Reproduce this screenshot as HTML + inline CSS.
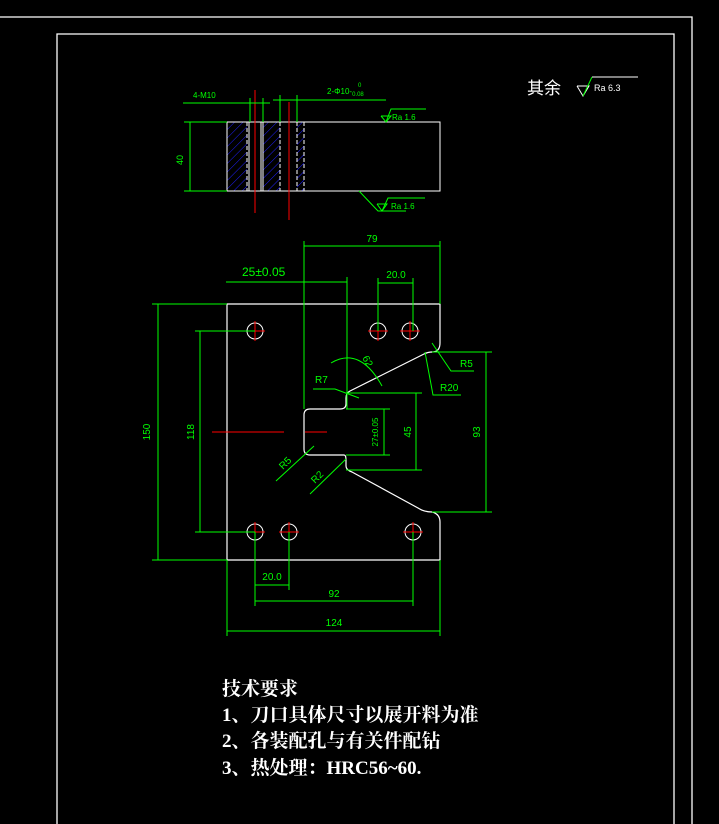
<!DOCTYPE html>
<html><head><meta charset="utf-8"><style>
html,body{margin:0;padding:0;background:#000;width:719px;height:824px;overflow:hidden}
svg{display:block}
text{font-family:"Liberation Sans",sans-serif}
.req{font-family:"Liberation Serif","Noto Serif CJK SC",serif;font-weight:bold}
.cj{font-family:"Liberation Sans","Noto Sans CJK SC",sans-serif}
</style></head><body>
<svg width="719" height="824" viewBox="0 0 719 824" xmlns="http://www.w3.org/2000/svg">
<defs>
<pattern id="h" width="6" height="6" patternUnits="userSpaceOnUse" patternTransform="rotate(45)">
<line x1="0" y1="0" x2="0" y2="6" stroke="#2020ff" stroke-width="1"/></pattern>
</defs>
<g fill="none" stroke="#fff" stroke-width="1.3">
<polyline points="0,17 692,17 692,824"/>
<polyline points="57,824 57,34 674,34 674,824"/>
</g>
<text x="527" y="94" fill="#fff" font-size="17" class="cj">其余</text>
<polyline points="577,86 589,86 583,96 577,86" fill="none" stroke="#fff"/>
<polyline points="583,96 592,77" fill="none" stroke="#0f0"/>
<line x1="592" y1="77" x2="638" y2="77" stroke="#fff"/>
<text x="594" y="91" fill="#fff" font-size="9">Ra 6.3</text>

<rect x="227" y="122" width="20" height="69" fill="url(#h)"/>
<rect x="263" y="122" width="17" height="69" fill="url(#h)"/>
<rect x="297" y="122" width="7" height="69" fill="url(#h)"/>
<g stroke="#fff" fill="none" stroke-width="1">
<rect x="227" y="122" width="213" height="69"/>
<line x1="247" y1="122" x2="247" y2="191" stroke-dasharray="4 2"/>
<line x1="249" y1="122" x2="249" y2="191"/>
<line x1="261" y1="122" x2="261" y2="191"/>
<line x1="263" y1="122" x2="263" y2="191"/>
<line x1="280" y1="122" x2="280" y2="191" stroke-dasharray="4 2"/>
<line x1="297" y1="122" x2="297" y2="191" stroke-dasharray="4 2"/>
<line x1="304" y1="122" x2="304" y2="191" stroke-dasharray="4 2"/>
</g>
<g stroke="#f00" stroke-width="1">
<line x1="255" y1="90" x2="255" y2="213"/>
<line x1="289" y1="102" x2="289" y2="220"/>
</g>
<g stroke="#0f0" stroke-width="1" fill="none">
<line x1="183" y1="103" x2="270" y2="103"/>
<line x1="273" y1="100" x2="386" y2="100"/>
<line x1="250" y1="98" x2="250" y2="122"/>
<line x1="263" y1="98" x2="263" y2="122"/>
<line x1="280" y1="95" x2="280" y2="122"/>
<line x1="297" y1="95" x2="297" y2="122"/>
<line x1="184" y1="122" x2="227" y2="122"/>
<line x1="184" y1="191" x2="227" y2="191"/>
<line x1="190" y1="122" x2="190" y2="191"/>
<polyline points="381,116 391,116 386,122 381,116"/><polyline points="386,122 391,109 426,109"/>
<polyline points="359,191 378,211 406,211"/>
<polyline points="377,204 387,204 382,211 377,204"/><polyline points="382,211 388,198 425,198"/>
</g>
<text x="193" y="98" fill="#0f0" font-size="8">4-M10</text>
<text x="327" y="94" fill="#0f0" font-size="8">2-Φ10-<tspan font-size="6" dy="2">0.08</tspan></text>
<text x="358" y="87" fill="#0f0" font-size="6">0</text>
<text x="392" y="120" fill="#0f0" font-size="8">Ra 1.6</text>
<text x="391" y="209" fill="#0f0" font-size="8">Ra 1.6</text>
<text x="183" y="160" fill="#0f0" font-size="9" transform="rotate(-90 183 160)" text-anchor="middle">40</text>

<path d="M227,304 H440 V343 Q440,352 432,352 Q428,352 424,354 L350,391 Q346,393 346,398 V404 Q346,409 340,409 H310 Q304,409 304,415 V449 Q304,455 310,455 H344 Q346,455 346,460 V466 Q346,470 352,472 L418,508 Q424,512 432,512 Q440,514 440,522 V560 H227 Z" fill="none" stroke="#fff" stroke-width="1.2"/>
<g stroke="#fff" fill="none" stroke-width="1">
<circle cx="255" cy="331" r="8"/><circle cx="378" cy="331" r="8"/><circle cx="410" cy="331" r="8"/>
<circle cx="255" cy="532" r="8"/><circle cx="289" cy="532" r="8"/><circle cx="413" cy="532" r="8"/>
</g>
<g stroke="#f00" stroke-width="1">
<path d="M245,331h20M255,321v20M368,331h20M378,321v20M400,331h20M410,321v20M245,532h20M255,522v20M279,532h20M289,522v20M403,532h20M413,522v20"/>
<line x1="212" y1="432" x2="284" y2="432"/><line x1="305" y1="432" x2="327" y2="432"/>
</g>
<g stroke="#0f0" stroke-width="1" fill="none">
<line x1="304" y1="241" x2="304" y2="409"/><line x1="440" y1="241" x2="440" y2="304"/>
<line x1="304" y1="246" x2="440" y2="246"/>
<line x1="226" y1="282" x2="347" y2="282"/><line x1="347" y1="277" x2="347" y2="409"/>
<line x1="378" y1="278" x2="378" y2="331"/><line x1="413" y1="278" x2="413" y2="331"/>
<line x1="378" y1="283" x2="413" y2="283"/>
<line x1="152" y1="304" x2="227" y2="304"/><line x1="152" y1="560" x2="227" y2="560"/>
<line x1="158" y1="304" x2="158" y2="560"/>
<line x1="195" y1="331" x2="255" y2="331"/><line x1="195" y1="532" x2="255" y2="532"/>
<line x1="200" y1="331" x2="200" y2="532"/>
<line x1="227" y1="560" x2="227" y2="636"/><line x1="440" y1="560" x2="440" y2="636"/>
<line x1="227" y1="631" x2="440" y2="631"/>
<line x1="255" y1="532" x2="255" y2="606"/><line x1="289" y1="532" x2="289" y2="590"/>
<line x1="413" y1="532" x2="413" y2="606"/>
<line x1="255" y1="585" x2="289" y2="585"/><line x1="255" y1="601" x2="413" y2="601"/>
<line x1="432" y1="352" x2="492" y2="352"/><line x1="432" y1="512" x2="492" y2="512"/>
<line x1="486" y1="352" x2="486" y2="512"/>
<line x1="346" y1="393" x2="422" y2="393"/><line x1="346" y1="470" x2="422" y2="470"/>
<line x1="416" y1="393" x2="416" y2="470"/>
<line x1="346" y1="409" x2="390" y2="409"/><line x1="346" y1="455" x2="390" y2="455"/>
<line x1="384" y1="409" x2="384" y2="455"/>
<path d="M331,363 Q360,346 382,386"/>
<polyline points="313,389 335,389 359,398"/>
<polyline points="432,343 451,371 474,371"/>
<polyline points="425,352 433,395 461,395"/>
<line x1="276" y1="481" x2="314" y2="446"/>
<line x1="310" y1="494" x2="346" y2="459"/>
</g>
<g fill="#0f0" font-size="10">
<text x="372" y="242" text-anchor="middle">79</text>
<text x="242" y="276" font-size="12">25±0.05</text>
<text x="396" y="278" text-anchor="middle">20.0</text>
<text x="150" y="432" transform="rotate(-90 150 432)" text-anchor="middle">150</text>
<text x="194" y="432" transform="rotate(-90 194 432)" text-anchor="middle">118</text>
<text x="272" y="580" text-anchor="middle">20.0</text>
<text x="334" y="597" text-anchor="middle">92</text>
<text x="334" y="626" text-anchor="middle">124</text>
<text x="315" y="383">R7</text>
<text x="460" y="367">R5</text>
<text x="440" y="391">R20</text>
<text x="480" y="432" transform="rotate(-90 480 432)" text-anchor="middle">93</text>
<text x="411" y="432" transform="rotate(-90 411 432)" text-anchor="middle">45</text>
<text x="378" y="432" transform="rotate(-90 378 432)" text-anchor="middle" font-size="8">27±0.05</text>
<text x="283" y="470" transform="rotate(-45 283 470)">R5</text>
<text x="315" y="484" transform="rotate(-45 315 484)">R2</text>
<text x="362" y="358" transform="rotate(60 362 358)">62</text>
</g>

<g fill="#fff" font-size="19" class="req">
<text x="222" y="695" class="req">技术要求</text>
<text x="222" y="721" class="req">1、刀口具体尺寸以展开料为准</text>
<text x="222" y="747" class="req">2、各装配孔与有关件配钻</text>
<text x="222" y="774" class="req">3、热处理：HRC56~60.</text>
</g>
</svg>
</body></html>
